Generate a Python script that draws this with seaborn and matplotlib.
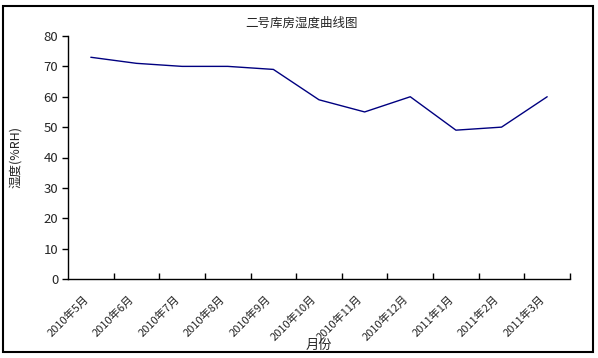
import matplotlib
matplotlib.use("Agg")
import matplotlib.pyplot as plt
from matplotlib.patches import Rectangle
from matplotlib.ticker import FixedLocator
from matplotlib.transforms import ScaledTranslation
import seaborn as sns
import pandas as pd

months = ["2010年5月", "2010年6月", "2010年7月", "2010年8月", "2010年9月", "2010年10月",
          "2010年11月", "2010年12月", "2011年1月", "2011年2月", "2011年3月"]
humidity = [73, 71, 70, 70, 69, 59, 55, 60, 49, 50, 60]
yticks = [0, 10, 20, 30, 40, 50, 60, 70, 80]

sns.set_theme(style="white")
plt.rcParams['font.family'] = ['Noto Sans CJK SC', 'DejaVu Sans']

df = pd.DataFrame({"month": months, "humidity": humidity})

fig = plt.figure(figsize=(5.98, 3.58), dpi=100)
ax = fig.add_axes([68/598, 1-279/358, (570-68)/598, (279-36)/358])

sns.lineplot(data=df, x="month", y="humidity", sort=False, ax=ax,
             color="#000080", linewidth=1.0)

n = len(months)
ax.set_xlim(-0.5, n - 0.5)
ax.set_ylim(0, 80)
ax.set_yticks(yticks)
ax.set_yticklabels([str(v) for v in yticks], fontsize=9.5)
ax.set_xticks(range(n))
ax.set_xticklabels(months, rotation=45, ha="right", rotation_mode="anchor", fontsize=8)
ax.xaxis.set_minor_locator(FixedLocator([i + 0.5 for i in range(n)]))
ax.tick_params(axis="x", which="major", length=0, pad=4)
ax.tick_params(axis="x", which="minor", direction="in", length=4, width=1, color="black", bottom=True)
ax.tick_params(axis="y", which="major", direction="out", length=4, width=1, color="black", left=True, pad=3)

offset = ScaledTranslation(-8/100, -9/100, fig.dpi_scale_trans)
for lab in ax.get_xticklabels():
    lab.set_transform(lab.get_transform() + offset)

for s in ["top", "right"]:
    ax.spines[s].set_visible(False)
for s in ["left", "bottom"]:
    ax.spines[s].set_color("black")
    ax.spines[s].set_linewidth(1.0)

ax.set_xlabel("月份", fontsize=9.5)
ax.set_ylabel("湿度(%RH)", fontsize=9)
ax.xaxis.set_label_coords(0.5, -0.245)
ax.yaxis.set_label_coords(-0.091, 0.5)
ax.set_title("二号库房湿度曲线图", fontsize=9, pad=7)
ax.title.set_position((0.465, 1.0))

fig.add_artist(Rectangle((3/598, 6/358), 590/598, 346/358, transform=fig.transFigure,
                         fill=False, edgecolor="black", linewidth=1.5))

fig.savefig("out.png", dpi=100, facecolor="white")
